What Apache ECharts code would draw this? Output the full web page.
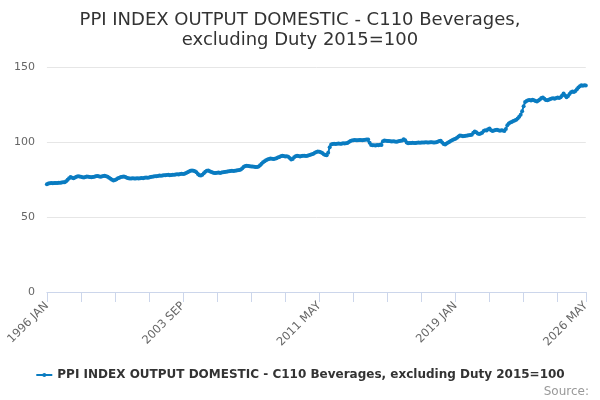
<!DOCTYPE html>
<html>
<head>
<meta charset="utf-8">
<script src="https://cdn.jsdelivr.net/npm/echarts@6/dist/echarts.min.js"></script>
<style>html,body{margin:0;padding:0;background:#fff}#c{width:600px;height:400px}</style>
</head>
<body>
<div id="c"></div>
<script>
var MONTHS = ['JAN','FEB','MAR','APR','MAY','JUN','JUL','AUG','SEP','OCT','NOV','DEC'];
var START_YEAR = 1996;
var SERIES_NAME = 'PPI INDEX OUTPUT DOMESTIC - C110 Beverages, excluding Duty 2015=100';
var TITLE = 'PPI INDEX OUTPUT DOMESTIC - C110 Beverages,\nexcluding Duty 2015=100';
var Y_TICKS = [0, 50, 100, 150];

var v1996 = [71.8, 72.3, 72.5, 72.6, 72.5, 72.6, 72.7, 72.6, 72.8, 72.9, 73.0, 73.1];
var v1997 = [73.2, 73.8, 74.8, 75.8, 76.6, 76.2, 75.9, 76.3, 76.8, 77.2, 77.0, 76.8];
var v1998 = [76.5, 76.4, 76.7, 77.0, 76.8, 76.6, 76.5, 76.7, 76.9, 77.2, 77.4, 77.1];
var v1999 = [76.8, 77.0, 77.3, 77.5, 77.2, 76.8, 76.2, 75.5, 74.8, 74.3, 74.6, 75.2];
var v2000 = [75.8, 76.2, 76.6, 76.9, 77.0, 76.7, 76.2, 75.9, 75.6, 75.7, 75.8, 75.6];
var v2001 = [75.6, 75.8, 75.7, 75.9, 76.0, 75.8, 76.1, 76.3, 76.2, 76.4, 76.6, 76.9];
var v2002 = [77.0, 77.2, 77.1, 77.4, 77.6, 77.5, 77.7, 77.9, 77.8, 78.0, 78.1, 77.9];
var v2003 = [78.0, 78.2, 78.1, 78.3, 78.5, 78.4, 78.6, 78.8, 78.7, 78.9, 79.3, 79.8];
var v2004 = [80.4, 80.8, 81.0, 80.8, 80.5, 79.8, 78.6, 77.9, 77.6, 78.2, 79.2, 80.2];
var v2005 = [80.8, 81.0, 80.5, 80.0, 79.6, 79.4, 79.3, 79.5, 79.6, 79.4, 79.7, 79.9];
var v2006 = [80.0, 80.2, 80.3, 80.5, 80.6, 80.8, 80.7, 80.9, 81.0, 81.2, 81.4, 81.6];
var v2007 = [82.5, 83.5, 84.0, 84.2, 84.0, 83.8, 83.7, 83.6, 83.5, 83.4, 83.3, 83.6];
var v2008 = [84.5, 85.5, 86.5, 87.2, 87.8, 88.3, 88.7, 89.0, 88.8, 88.6, 88.9, 89.2];
var v2009 = [89.6, 90.0, 90.5, 90.8, 90.6, 90.3, 90.5, 90.2, 89.4, 88.4, 88.6, 89.8];
var v2010 = [90.5, 90.8, 90.6, 90.4, 90.7, 90.9, 90.8, 90.6, 90.9, 91.2, 91.5, 91.8];
var v2011 = [92.2, 92.8, 93.3, 93.6, 93.5, 93.2, 92.6, 91.8, 91.3, 91.2, 92.8, 96.5];
var v2012 = [98.3, 98.6, 98.8, 98.7, 98.9, 99.0, 98.8, 98.9, 99.1, 99.0, 99.2, 99.4];
var v2013 = [100.0, 100.6, 101.0, 101.2, 101.3, 101.1, 101.2, 101.4, 101.3, 101.2, 101.4, 101.5];
var v2014 = [101.6, 101.7, 99.5, 98.0, 97.8, 97.9, 97.7, 98.0, 97.9, 98.1, 98.0, 100.5];
var v2015 = [101.0, 100.8, 100.7, 100.6, 100.5, 100.4, 100.5, 100.3, 100.2, 100.4, 100.6, 100.9];
var v2016 = [101.0, 101.8, 101.2, 99.6, 99.2, 99.3, 99.4, 99.5, 99.3, 99.4, 99.5, 99.6];
var v2017 = [99.5, 99.6, 99.7, 99.6, 99.8, 99.7, 99.6, 99.8, 99.9, 99.7, 99.6, 99.8];
var v2018 = [100.2, 100.6, 100.9, 99.6, 98.6, 98.4, 99.0, 99.6, 100.2, 100.8, 101.3, 101.8];
var v2019 = [102.2, 102.8, 103.6, 104.3, 104.2, 103.9, 104.0, 104.1, 104.3, 104.5, 104.6, 104.8];
var v2020 = [106.2, 107.0, 106.5, 105.6, 105.4, 105.7, 106.2, 107.4, 107.8, 107.6, 108.5, 109.0];
var v2021 = [107.8, 107.4, 107.6, 108.0, 108.2, 107.9, 107.5, 107.8, 107.6, 107.4, 108.6, 111.2];
var v2022 = [112.4, 113.0, 113.4, 114.0, 114.3, 114.8, 115.6, 116.8, 118.2, 120.5, 123.8, 126.6];
var v2023 = [127.3, 127.8, 128.0, 127.6, 128.2, 127.9, 127.4, 127.0, 127.6, 128.4, 129.3, 129.6];
var v2024 = [128.8, 128.0, 127.8, 128.2, 128.6, 129.0, 129.2, 128.9, 129.4, 129.6, 129.3, 129.8];
var v2025 = [131.0, 132.4, 131.0, 129.8, 130.6, 132.0, 133.2, 133.6, 133.4, 134.0, 135.2, 136.4];
var v2026 = [137.2, 137.8, 137.5, 137.9, 137.6];

var yearly = [v1996, v1997, v1998, v1999, v2000, v2001, v2002, v2003, v2004, v2005,
  v2006, v2007, v2008, v2009, v2010, v2011, v2012, v2013, v2014, v2015,
  v2016, v2017, v2018, v2019, v2020, v2021, v2022, v2023, v2024, v2025, v2026];

var categories = [];
var values = [];
yearly.forEach(function (arr, yi) {
  arr.forEach(function (v, mi) {
    categories.push((START_YEAR + yi) + ' ' + MONTHS[mi]);
    values.push(v);
  });
});
var LAST = categories.length - 1;

var chart = echarts.init(document.getElementById('c'));
chart.setOption({
  animation: false,
  title: [{
    text: TITLE,
    left: 'center',
    top: 5,
    textStyle: { fontFamily: 'DejaVu Sans', fontSize: 18, fontWeight: 'normal', color: '#333333', lineHeight: 20 }
  }, {
    text: 'Source:',
    right: 6,
    top: 381,
    textStyle: { fontFamily: 'DejaVu Sans', fontSize: 12, fontWeight: 'normal', color: '#999999' }
  }],
  legend: {
    data: [SERIES_NAME],
    bottom: 14,
    left: 'center',
    itemWidth: 16,
    itemHeight: 5,
    itemGap: 6,
    textStyle: { fontFamily: 'DejaVu Sans', fontSize: 12, fontWeight: 'bold', color: '#333333' }
  },
  grid: { left: 46.9, right: 14.2, top: 67, bottom: 108, containLabel: false },
  xAxis: {
    type: 'category',
    data: categories,
    boundaryGap: false,
    axisLine: { lineStyle: { color: '#ccd6eb' } },
    axisTick: {
      length: 10,
      lineStyle: { color: '#ccd6eb' },
      interval: function (i) { return i % 23 === 0 || i === LAST; }
    },
    axisLabel: {
      rotate: 45,
      color: '#666666',
      fontFamily: 'DejaVu Sans',
      fontSize: 11.5,
      margin: 12,
      interval: function (i) { return i % 92 === 0 || i === LAST; }
    },
    splitLine: { show: false }
  },
  yAxis: {
    type: 'value',
    min: Y_TICKS[0],
    max: Y_TICKS[Y_TICKS.length - 1],
    interval: 50,
    axisLine: { show: false },
    axisTick: { show: false },
    axisLabel: { color: '#666666', fontFamily: 'DejaVu Sans', fontSize: 11, margin: 12 },
    splitLine: { lineStyle: { color: '#e6e6e6' } }
  },
  series: [{
    name: SERIES_NAME,
    type: 'line',
    data: values,
    color: '#0a7cc1',
    symbol: 'circle',
    symbolSize: 4,
    showSymbol: true,
    showAllSymbol: true,
    lineStyle: { width: 2, color: '#0a7cc1' },
    itemStyle: { color: '#0a7cc1' }
  }]
});
</script>
</body>
</html>
